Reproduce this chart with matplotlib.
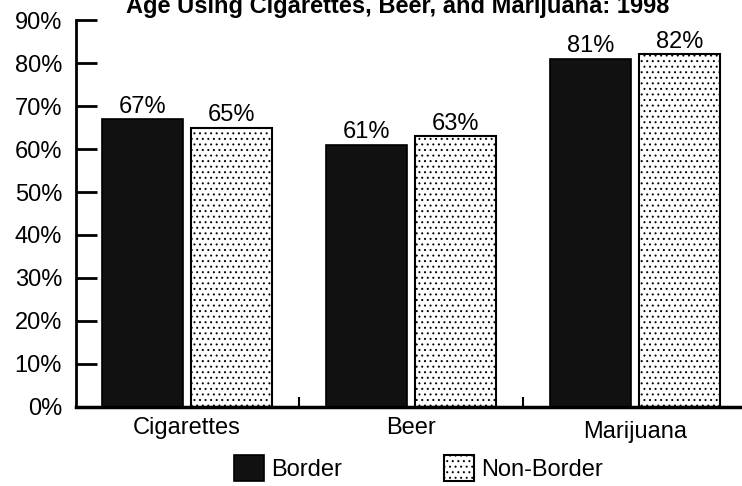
import matplotlib.pyplot as plt
import numpy as np

plt.rcParams['font.family'] = ['Liberation Sans', 'DejaVu Sans']
plt.rcParams['hatch.color'] = '#555555'
plt.rcParams['hatch.linewidth'] = 0.7

categories = ['Cigarettes', 'Beer', 'Marijuana']
border = [67, 61, 81]
non_border = [65, 63, 82]
series_names = ['Border', 'Non-Border']
ytick_vals = [0, 10, 20, 30, 40, 50, 60, 70, 80, 90]

fig = plt.figure(figsize=(7.42, 4.86), dpi=100)
ax = fig.add_axes([0.1024, 0.1626, 0.8976, 0.7962])

x = np.arange(len(categories))
w = 0.36
off = 0.199

b1 = ax.bar(x - off, border, w, color='#111111', edgecolor='black', linewidth=1.2,
            label=series_names[0])
b2 = ax.bar(x + off, non_border, w, color='white', edgecolor='black', linewidth=1.5,
            hatch='...', label=series_names[1])

# value labels above each bar
for bars, vals in [(b1, border), (b2, non_border)]:
    for bar, v in zip(bars, vals):
        ax.text(bar.get_x() + bar.get_width() / 2, v + 0.3, f'{v}%',
                ha='center', va='bottom', fontsize=17)

ax.set_ylim(0, 90)
ax.set_xlim(-0.4955, 2.478)
ax.set_yticks(ytick_vals)
ax.set_yticklabels([f'{v}%' for v in ytick_vals], fontsize=17)
ax.set_xticks(x)
ax.set_xticklabels(categories, fontsize=17)
ax.tick_params(axis='x', length=0, pad=7)
ax.set_xticks([0.5, 1.5], minor=True)
ax.tick_params(axis='x', which='minor', direction='in', length=7, width=1.5)
ax.tick_params(axis='y', direction='in', length=15, width=2, pad=10)
for lbl in ax.get_xticklabels():
    if lbl.get_text() == 'Marijuana':
        lbl.set_y(-0.01)

ax.spines['top'].set_visible(False)
ax.spines['right'].set_visible(False)
ax.spines['left'].set_linewidth(2)
ax.spines['bottom'].set_linewidth(2.5)

fig.text(0.536, 0.973, 'Age Using Cigarettes, Beer, and Marijuana: 1998',
         ha='center', va='baseline', fontsize=17, fontweight='bold')

fig.legend(handles=[b1, b2], labels=series_names, loc='center', ncol=2,
           bbox_to_anchor=(0.564, 0.037), frameon=False, fontsize=17,
           columnspacing=4.3, handlelength=1.27, handleheight=1.27,
           handletextpad=0.3, borderpad=0.1)

fig.savefig('out.png', dpi=100)
